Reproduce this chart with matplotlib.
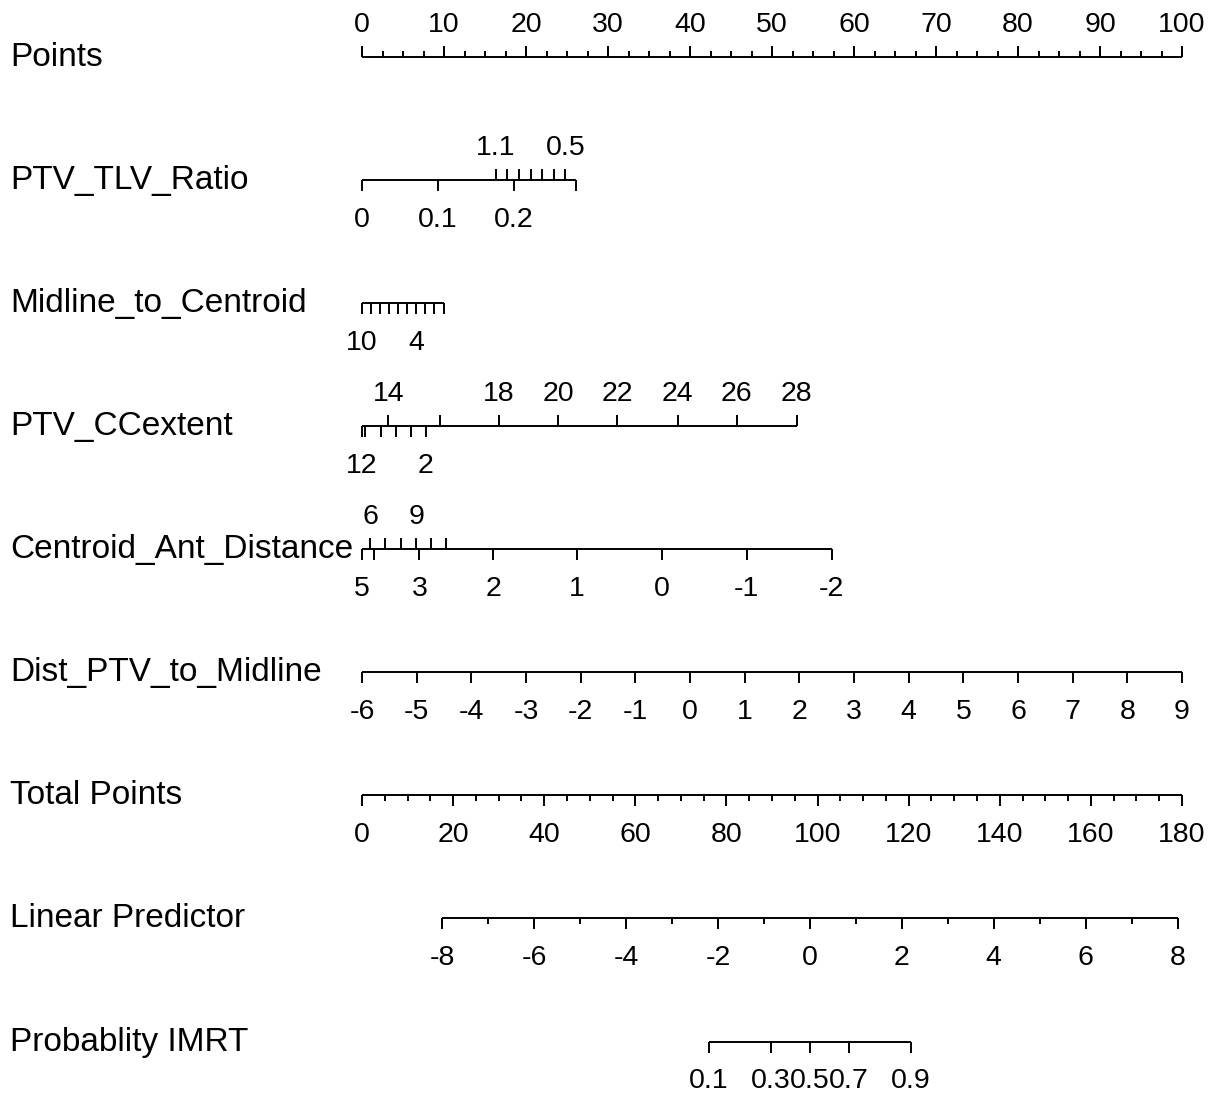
import numpy as np
import matplotlib.pyplot as plt

plt.rcParams['font.family'] = ['Liberation Sans', 'DejaVu Sans']

# ----- data (positions on the 0-100 points scale) -----
row_names = ['Points', 'PTV_TLV_Ratio', 'Midline_to_Centroid', 'PTV_CCextent',
             'Centroid_Ant_Distance', 'Dist_PTV_to_Midline', 'Total Points',
             'Linear Predictor', 'Probablity IMRT']

points_major = np.arange(0, 101, 10)
points_minor = np.arange(0, 101, 2.5)

tlv_low_labels = ['0', '0.1', '0.2', '']
tlv_low_pts = [0, 9.27, 18.54, 26.1]
tlv_up_labels = ['1.1', '', '', '', '', '', '0.5']
tlv_up_pts = [16.3, 17.7, 19.1, 20.6, 22.0, 23.4, 24.8]

midline_labels = ['10', '', '', '', '', '', '4', '', '', '']
midline_pts = [0, 1.1, 2.2, 3.3, 4.4, 5.5, 6.6, 7.7, 8.8, 10.0]

cc_up_labels = ['14', '', '18', '20', '22', '24', '26', '28']
cc_up_pts = [3.2, 9.5, 16.7, 23.9, 31.1, 38.5, 45.7, 53.0]
cc_low_labels = ['12', '', '', '', '', '2']
cc_low_pts = [0, 0.4, 2.3, 4.1, 6.0, 7.8]

cad_low_labels = ['5', '', '3', '2', '1', '0', '-1', '-2']
cad_low_pts = [0, 1.5, 7.0, 16.0, 26.2, 36.6, 46.9, 57.3]
cad_up_labels = ['6', '', '', '9', '', '']
cad_up_pts = [1.0, 2.8, 4.7, 6.6, 8.4, 10.3]

dist_vals = np.arange(-6, 10)
dist_range = (-6, 9)

total_major = np.arange(0, 181, 20)
total_minor = np.arange(0, 181, 5)
total_max = 180

lp_major = np.arange(-8, 9, 2)
lp_minor = np.arange(-8, 9, 1)
lp_total_at_zero = 98.3
lp_total_per_unit = 10.09

prob_vals = [0.1, 0.3, 0.5, 0.7, 0.9]
prob_labels = ['0.1', '0.3', '0.5', '0.7', '0.9']

# ----- layout -----
W, H = 1225, 1093
fig = plt.figure(figsize=(W / 100, H / 100), dpi=100)
ax = fig.add_axes([0, 0, 1, 1])
ax.axis('off')

row_px = 123.1          # pixel distance between rows
x0_px, pt_px = 362, 8.2  # pixel of 0 points, pixels per point
ax.set_xlim(-x0_px / pt_px, (W - x0_px) / pt_px)
ax.set_ylim((H - 56.7) / row_px, -56.7 / row_px)


def px(v):
    return v / row_px


LW = 1.4
TICK = px(11)
MINOR = px(6)
FS_TICK = 20.5
FS_NAME = 24


def axis_line(row, x_from, x_to):
    ax.plot([x_from, x_to], [row, row], color='black', lw=LW, solid_capstyle='butt')


def ticks(row, pos, labels, side='down', length=TICK):
    pos = np.asarray(pos, dtype=float)
    if side == 'down':
        ax.vlines(pos, row, row + length, color='black', lw=LW)
        for p, lab in zip(pos, labels):
            if lab:
                ax.text(p, row + px(47), lab, ha='center', va='baseline', fontsize=FS_TICK)
    else:
        ax.vlines(pos, row - length, row, color='black', lw=LW)
        for p, lab in zip(pos, labels):
            if lab:
                ax.text(p, row - px(25), lab, ha='center', va='baseline', fontsize=FS_TICK)


# row names
for i, name in enumerate(row_names):
    ax.text(10 / W, i + px(9), name, transform=ax.get_yaxis_transform(),
            ha='left', va='baseline', fontsize=FS_NAME)

# 0 Points
axis_line(0, 0, 100)
ticks(0, points_minor, [''] * len(points_minor), side='up', length=MINOR)
ticks(0, points_major, [str(v) for v in points_major], side='up')

# 1 PTV_TLV_Ratio
axis_line(1, 0, max(tlv_low_pts))
ticks(1, tlv_low_pts, tlv_low_labels, side='down')
ticks(1, tlv_up_pts, tlv_up_labels, side='up')

# 2 Midline_to_Centroid
axis_line(2, 0, max(midline_pts))
ticks(2, midline_pts, midline_labels, side='down')

# 3 PTV_CCextent
axis_line(3, 0, max(cc_up_pts))
ticks(3, cc_up_pts, cc_up_labels, side='up')
ticks(3, cc_low_pts, cc_low_labels, side='down')

# 4 Centroid_Ant_Distance
axis_line(4, 0, max(cad_low_pts))
ticks(4, cad_low_pts, cad_low_labels, side='down')
ticks(4, cad_up_pts, cad_up_labels, side='up')

# 5 Dist_PTV_to_Midline
dist_pts = (dist_vals - dist_range[0]) / (dist_range[1] - dist_range[0]) * 100
axis_line(5, dist_pts.min(), dist_pts.max())
ticks(5, dist_pts, [str(v) for v in dist_vals], side='down')

# 6 Total Points
axis_line(6, 0, 100)
ticks(6, total_minor * 100 / total_max, [''] * len(total_minor), length=MINOR)
ticks(6, total_major * 100 / total_max, [str(v) for v in total_major])


def lp_to_pts(lp):
    return (lp_total_at_zero + lp_total_per_unit * np.asarray(lp, dtype=float)) * 100 / total_max


# 7 Linear Predictor
axis_line(7, lp_to_pts(lp_major[0]), lp_to_pts(lp_major[-1]))
ticks(7, lp_to_pts(lp_minor), [''] * len(lp_minor), length=MINOR)
ticks(7, lp_to_pts(lp_major), [str(v) for v in lp_major])

# 8 Probability
p = np.array(prob_vals)
prob_pts = lp_to_pts(np.log(p / (1 - p)))
axis_line(8, prob_pts[0], prob_pts[-1])
ticks(8, prob_pts, prob_labels)

fig.savefig('out.png', dpi=100)
